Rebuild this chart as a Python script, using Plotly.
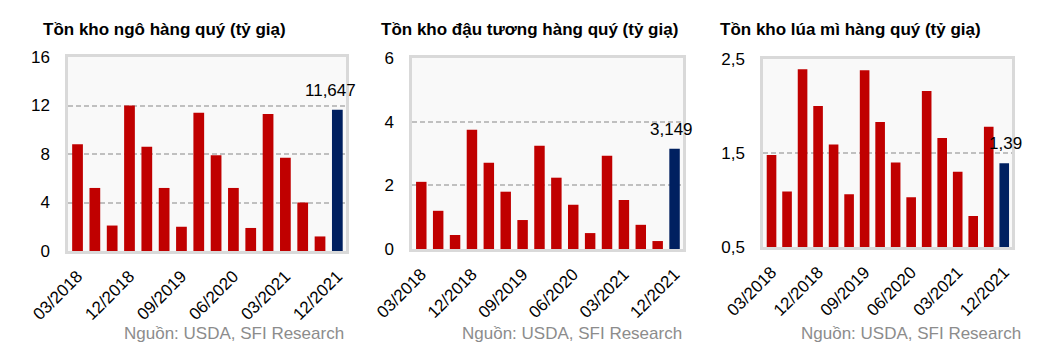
import plotly.graph_objects as go

W, H = 1063, 359
OFF = 8  # page body margin offsets the figure by 8px

quarters = ["03/2018", "06/2018", "09/2018", "12/2018",
            "03/2019", "06/2019", "09/2019", "12/2019",
            "03/2020", "06/2020", "09/2020", "12/2020",
            "03/2021", "06/2021", "09/2021", "12/2021"]
tick_labels = ["03/2018", "12/2018", "09/2019", "06/2020", "03/2021", "12/2021"]

corn = [8.8, 5.2, 2.1, 12.0, 8.6, 5.2, 2.0, 11.4, 7.9, 5.2, 1.9, 11.3, 7.7, 4.0, 1.2, 11.647]
soy = [2.11, 1.2, 0.44, 3.75, 2.71, 1.8, 0.91, 3.24, 2.24, 1.39, 0.5, 2.93, 1.54, 0.76, 0.25, 3.149]
wheat = [1.48, 1.09, 2.39, 2.0, 1.59, 1.06, 2.38, 1.83, 1.40, 1.03, 2.16, 1.66, 1.30, 0.83, 1.78, 1.39]

titles = ["Tồn kho ngô hàng quý (tỷ giạ)",
          "Tồn kho đậu tương hàng quý (tỷ giạ)",
          "Tồn kho lúa mì hàng quý (tỷ giạ)"]
last_labels = ["11,647", "3,149", "1,39"]
source = "Nguồn: USDA, SFI Research"

RED = "#C00000"
NAVY = "#002060"
FONT = "Liberation Sans, Arial, sans-serif"

# pixel geometry of each panel on the page: (left, right, top, bottom)
panels = [(68, 346, 57, 251), (412, 683, 58, 249), (763, 1012, 59, 247)]
yranges = [[0, 16], [0, 6], [0.5, 2.5]]
ydticks = [4, 2, 1]
ytickfmt = ["d", "d", ".1f"]
title_x = [41, 379, 718]
source_right = [346, 684, 1023]
label_xshift = [-7, -3, 1]


def px(x):
    return (x - OFF) / W


def py(y):
    return 1 - (y - OFF) / H


series = [corn, soy, wheat]

fig = go.Figure()
annotations = []
for i, vals in enumerate(series):
    n = "" if i == 0 else str(i + 1)
    colors = [RED] * (len(vals) - 1) + [NAVY]
    fig.add_trace(go.Bar(x=quarters, y=vals, marker=dict(color=colors, line=dict(width=0)),
                         width=0.62, xaxis="x" + n, yaxis="y" + n, showlegend=False))
    l, r, t, b = panels[i]
    fig.update_layout(**{
        "xaxis" + n: dict(domain=[px(l), px(r)], anchor="y" + n, type="category",
                          tickmode="array", tickvals=tick_labels, ticktext=tick_labels,
                          tickangle=-45, tickfont=dict(size=17, color="#000", family=FONT),
                          showline=True, mirror=True, linecolor="#D9D9D9", linewidth=2.5,
                          showgrid=False, ticks="outside", ticklen=6, automargin=False,
                          tickcolor="rgba(0,0,0,0)", range=[-0.55, 15.5]),
        "yaxis" + n: dict(domain=[py(b), py(t)], anchor="x" + n,
                          range=yranges[i], dtick=ydticks[i], tick0=0 if i < 2 else 0.5,
                          tickformat=ytickfmt[i], automargin=False,
                          tickfont=dict(size=17, color="#000", family=FONT),
                          showline=True, mirror=True, linecolor="#D9D9D9", linewidth=2.5,
                          showgrid=True, gridcolor="#C0C0C0", griddash="5px,3px", gridwidth=1.5,
                          zeroline=False, ticks="outside", ticklen=12,
                          tickcolor="rgba(0,0,0,0)"),
    })
    annotations.append(dict(text="<b>" + titles[i] + "</b>", xref="paper", yref="paper",
                            x=px(title_x[i]), y=py(30), xanchor="left", yanchor="middle",
                            showarrow=False, font=dict(size=17, color="#000", family=FONT)))
    annotations.append(dict(text=source, xref="paper", yref="paper",
                            x=px(source_right[i]), y=py(333), xanchor="right", yanchor="middle",
                            showarrow=False, font=dict(size=17, color="#8C8C8C", family=FONT)))
    annotations.append(dict(text=last_labels[i], xref="x" + n, yref="y" + n,
                            x=quarters[-1], y=vals[-1], xanchor="center", yanchor="bottom",
                            yshift=8, xshift=label_xshift[i], showarrow=False,
                            font=dict(size=17, color="#000", family=FONT)))

fig.update_layout(width=W, height=H, margin=dict(l=0, r=0, t=0, b=0, autoexpand=False),
                  paper_bgcolor="#FFFFFF", plot_bgcolor="#F9F9F9",
                  separators=",.", bargap=0.38, annotations=annotations,
                  font=dict(family=FONT))

fig.write_html("out.html")
